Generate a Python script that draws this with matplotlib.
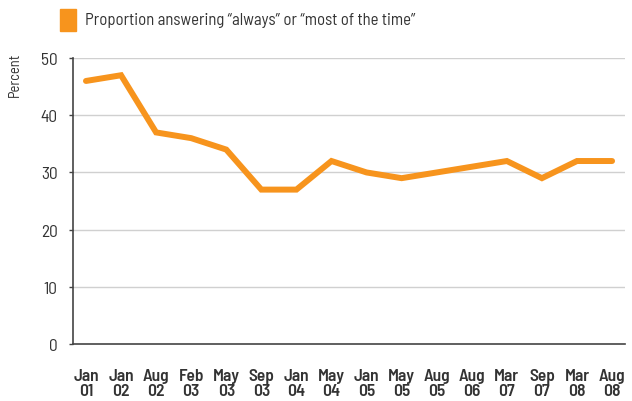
import matplotlib as mpl
mpl.use('Agg')
import matplotlib.pyplot as plt
import matplotlib.patches as mpatches

# survey waves and share answering "always" / "most of the time"
months = ['Jan', 'Jan', 'Aug', 'Feb', 'May', 'Sep', 'Jan', 'May',
          'Jan', 'May', 'Aug', 'Aug', 'Mar', 'Sep', 'Mar', 'Aug']
years = ['01', '02', '02', '03', '03', '03', '04', '04',
         '05', '05', '05', '06', '07', '07', '08', '08']
proportion = [46, 47, 37, 36, 34, 27, 27, 32, 30, 29, 30, 31, 32, 29, 32, 32]

orange = '#F7941D'
text_col = '#333333'
narrow = ['Barlow Semi Condensed', 'DejaVu Sans']

fig = plt.figure(figsize=(6.32, 4.02), dpi=100)
ax = fig.add_axes([0.1155, 0.1418, 0.8735, 0.7112])

x = list(range(len(proportion)))
ax.plot(x, proportion, color=orange, lw=4.3, solid_capstyle='round', solid_joinstyle='miter', zorder=3)

ax.set_ylim(0, 50)
ax.set_xlim(-0.37, len(proportion) - 1 + 0.37)
ax.set_yticks([0, 10, 20, 30, 40, 50])
for yv in [10, 20, 30, 40, 50]:
    ax.axhline(yv, color='#d0d0d0', lw=1.0, zorder=1)

for side in ['top', 'right']:
    ax.spines[side].set_visible(False)
for side in ['left', 'bottom']:
    ax.spines[side].set_color('#444444')
    ax.spines[side].set_linewidth(1.2)

ax.tick_params(axis='y', length=3, width=1, color='#444444', pad=8)
for lbl in ax.get_yticklabels():
    lbl.set_family(narrow)
    lbl.set_fontsize(12.5)
    lbl.set_color(text_col)

ax.set_xticks(x)
ax.set_xticklabels([m + '\n' + y for m, y in zip(months, years)],
                   fontsize=12.5, fontweight='semibold', color=text_col, linespacing=1.0,
                   family=narrow)
ax.tick_params(axis='x', length=0, pad=17)

fig.text(0.024, 0.868, 'Percent', rotation=90, ha='center', va='top', fontsize=10.5,
         color=text_col, family=narrow)

# legend swatch and caption
fig.patches.append(mpatches.Rectangle((60 / 632, 1 - 32 / 402), 16 / 632, 22 / 402,
                                      transform=fig.transFigure, color=orange, figure=fig))
fig.text(85 / 632, 1 - 21 / 402, 'Proportion answering \u201calways\u201d or \u201cmost of the time\u201d',
         fontsize=12, color=text_col, va='center', ha='left', family=narrow)

fig.savefig('out.png', dpi=100)
